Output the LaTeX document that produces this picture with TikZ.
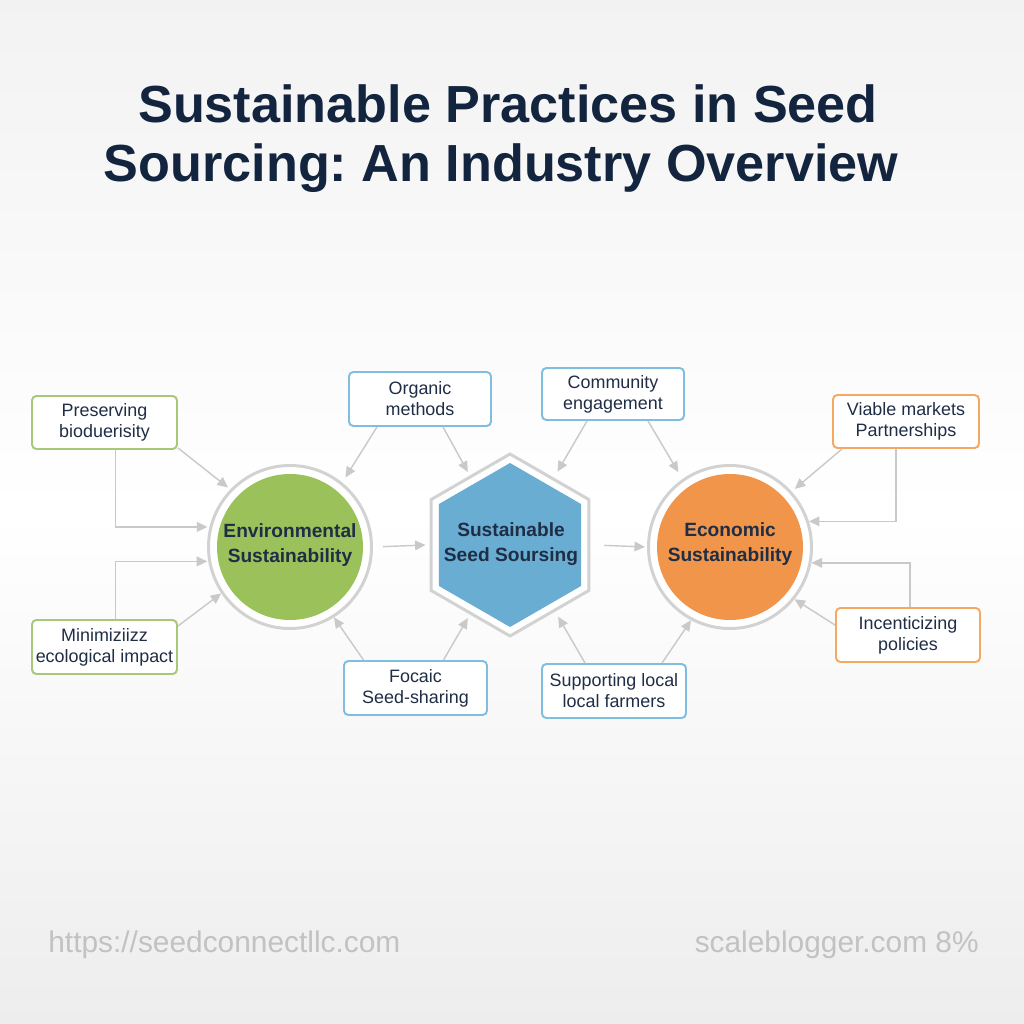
\documentclass[tikz,border=0pt]{standalone}
\usepackage{fontspec}
\setmainfont{Liberation Sans}
\usetikzlibrary{arrows.meta,calc}
\frenchspacing
\newlength{\upx}\setlength{\upx}{0.02cm}
\definecolor{navy}{HTML}{13243F}
\definecolor{txtnavy}{HTML}{1F2D45}
\definecolor{ringgray}{HTML}{D2D2D2}
\definecolor{arrgray}{HTML}{C9C9C9}
\definecolor{envgreen}{HTML}{9BC25A}
\definecolor{hexblue}{HTML}{6AADD2}
\definecolor{ecoorange}{HTML}{F0954A}
\definecolor{bgreen}{HTML}{A6C878}
\definecolor{bblue}{HTML}{7EBEE0}
\definecolor{borange}{HTML}{F5A862}
\definecolor{foot}{HTML}{C2C2C2}
\tikzset{
  box/.style={draw, line width=1.1pt, rounded corners=2.5pt, fill=white, text=txtnavy,
    font=\fontsize{10.2}{12}\selectfont, align=center, minimum height=53\upx, inner sep=0pt},
  ring/.style={circle, draw=ringgray, line width=1.7pt, fill=white, minimum size=163\upx, inner sep=0pt},
  centertext/.style={text=txtnavy, font=\bfseries\fontsize{10.9}{14}\selectfont, align=center},
  arr/.style={draw=arrgray, line width=0.8pt, -{Triangle[length=6pt,width=5.5pt]}}
}
\begin{document}
\begin{tikzpicture}[x=0.02cm,y=-0.02cm]
\useasboundingbox (0,0) rectangle (1024,1024);
\shade[top color=black!5, bottom color=black!7, middle color=white] (0,0) rectangle (1024,1024);

% title
\node[anchor=base, text=navy, font=\bfseries\fontsize{29.7}{33}\selectfont] (t1) at (508,123) {Sustainable Practices in Seed};
\node[anchor=base, text=navy, font=\bfseries\fontsize{29.7}{33}\selectfont] (t2) at (501,181) {Sourcing: An Industry Overview};

% central shapes
\node[ring] (env) at (290,547) {};
\fill[envgreen] (env.center) circle[radius=73\upx];
\node[centertext] (envt) at (290,545) {Environmental\\Sustainability};

\node[ring] (econ) at (730,547) {};
\fill[ecoorange] (econ.center) circle[radius=73\upx];
\node[centertext] (econt) at (730,544) {Economic\\Sustainability};

\node[circle, minimum size=168\upx, inner sep=0pt] (hex) at (510,545) {};
\draw[shift={(hex.center)}, draw=ringgray, line width=1.7pt, fill=white]
  (90:91) -- (150:91) -- (210:91) -- (270:91) -- (330:91) -- (30:91) -- cycle;
\fill[shift={(hex.center)}, hexblue]
  (90:82) -- (150:82) -- (210:82) -- (270:82) -- (330:82) -- (30:82) -- cycle;
\node[centertext] (hext) at (511,544) {Sustainable\\Seed Soursing};

% boxes
\node[box, draw=bgreen, minimum width=145\upx] (pres) at (104.5,422.5) {Preserving\\bioduerisity};
\node[box, draw=bgreen, minimum width=145\upx, minimum height=54\upx] (mini) at (104.5,647) {Minimiziizz\\ecological impact};
\node[box, draw=bblue, minimum width=142\upx, minimum height=54\upx] (org) at (420,399) {Organic\\methods};
\node[box, draw=bblue, minimum width=142\upx, minimum height=52\upx] (com) at (613,394) {Community\\engagement};
\node[box, draw=borange, minimum width=146\upx] (via) at (906,421.5) {Viable markets\\Partnerships};
\node[box, draw=borange, minimum width=144\upx, minimum height=54\upx] (inc) at (908,635) {Incenticizing\\policies};
\node[box, draw=bblue, minimum width=143\upx, minimum height=54\upx] (foc) at (415.5,688) {Focaic\\Seed-sharing};
\node[box, draw=bblue, minimum width=144\upx, minimum height=54\upx] (sup) at (614,691) {Supporting local\\local farmers};

% connectors
\draw[arr, shorten >=3\upx] ([yshift=2\upx]pres.south east) -- (env.136);
\draw[arr, shorten >=2\upx] ([xshift=11\upx]pres.south) |- (env.166);
\draw[arr, shorten >=1\upx] ([xshift=11\upx]mini.north) |- (env.190);
\draw[arr] ([yshift=-7\upx]mini.north east) -- (env.214);
\draw[arr, shorten >=6\upx] ([xshift=-43\upx]org.south) -- (env.51);
\draw[arr] ([xshift=23\upx]org.south) -- (hex.120);
\draw[arr, shorten >=3\upx] ([xshift=-26\upx]com.south) -- (hex.57);
\draw[arr, shorten >=8\upx] ([xshift=35\upx]com.south) -- (econ.125);
\draw[arr, shorten <=10\upx] (env.east) -- (hex.west);
\draw[arr, shorten <=10\upx, shorten >=2\upx] (hex.east) -- (econ.west);
\draw[arr] ([xshift=-52\upx]foc.north) -- (env.-58);
\draw[arr] ([xshift=28\upx]foc.north) -- (hex.240);
\draw[arr, shorten >=2\upx] ([xshift=-29\upx]sup.north) -- (hex.-56);
\draw[arr] ([xshift=48\upx]sup.north) -- (econ.242);
\draw[arr, shorten >=4\upx] ([xshift=-64\upx]via.south) -- (econ.42);
\draw[arr] ([xshift=-10\upx]via.south) |- (econ.18);
\draw[arr] ([xshift=2\upx]inc.north) |- (econ.-11);
\draw[arr] ([yshift=-18\upx]inc.north west) -- (econ.-39);

% footer
\node[anchor=base west, text=foot, font=\fontsize{17}{20}\selectfont, inner sep=0pt] (f1) at (48,952) {https://seedconnectllc.com};
\node[anchor=base east, text=foot, font=\fontsize{17}{20}\selectfont, inner sep=0pt] (f2) at (979,952) {scaleblogger.com 8\%};
\end{tikzpicture}
\end{document}
